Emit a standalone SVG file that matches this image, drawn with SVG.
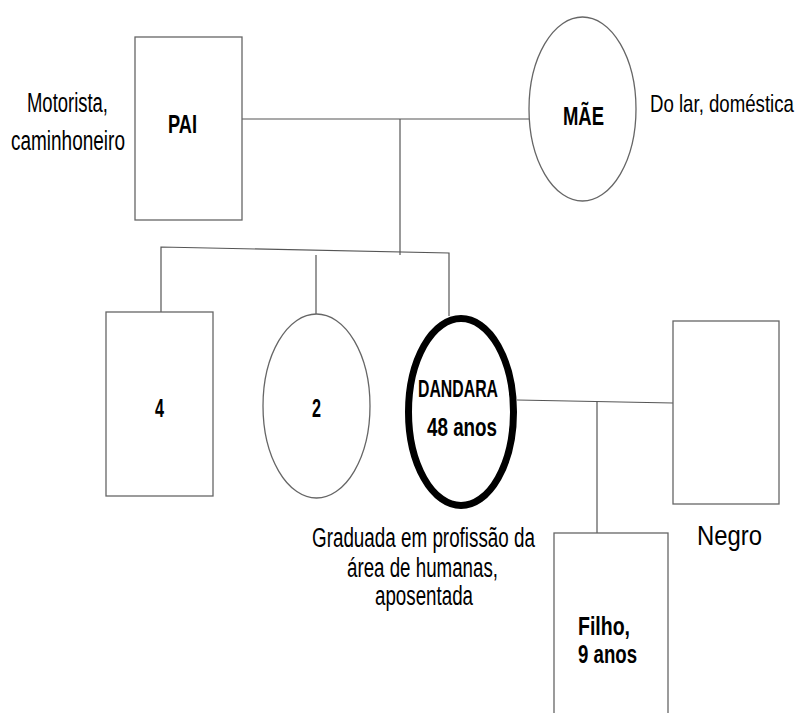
<svg xmlns="http://www.w3.org/2000/svg" width="801" height="713" viewBox="0 0 801 713">
<style>
.n{fill:#fff;stroke:#666;stroke-width:1.3}
.c{fill:none;stroke:#555;stroke-width:1.2}
.t{font-family:"Liberation Sans",Arial,sans-serif;font-size:27px;fill:#000}
.b{font-family:"Liberation Sans",Arial,sans-serif;font-size:25px;font-weight:bold;fill:#000}
</style>
<rect width="801" height="713" fill="#fff"/>
<g id="connectors">
<line class="c" x1="242" y1="119" x2="529" y2="119"/>
<line class="c" x1="400" y1="119" x2="400" y2="255"/>
<polyline class="c" points="161,312 161,247 449,253 449,316"/>
<line class="c" x1="316" y1="255" x2="316" y2="314"/>
<line class="c" x1="517" y1="400" x2="673" y2="403"/>
<line class="c" x1="597" y1="401" x2="597" y2="533"/>
</g>
<g id="pai">
<rect class="n" x="135" y="37" width="107" height="183"/>
<text class="b" x="168" y="133" textLength="29" lengthAdjust="spacingAndGlyphs">PAI</text>
</g>
<g id="pai-label" transform="scale(0.67,1)">
<text class="t" x="40.3" y="112" textLength="120.9" lengthAdjust="spacingAndGlyphs" style="font-size:28px">Motorista,</text>
<text class="t" x="16.4" y="150" textLength="170.1" lengthAdjust="spacingAndGlyphs" style="font-size:28px">caminhoneiro</text>
</g>
<g id="mae">
<ellipse class="n" cx="582.5" cy="109" rx="53.5" ry="92"/>
<text class="b" x="563" y="125" textLength="41" lengthAdjust="spacingAndGlyphs">MÃE</text>
</g>
<g id="mae-label" transform="scale(0.78,1)">
<text class="t" x="833.3" y="112" textLength="184.6" lengthAdjust="spacingAndGlyphs" style="font-size:24px">Do lar, doméstica</text>
</g>
<g id="irmaos">
<rect class="n" x="106" y="312" width="107" height="184"/>
<text class="b" x="155" y="417" textLength="9" lengthAdjust="spacingAndGlyphs">4</text>
</g>
<g id="irmas">
<ellipse class="n" cx="316.5" cy="406" rx="53.5" ry="92"/>
<text class="b" x="312" y="417" textLength="9" lengthAdjust="spacingAndGlyphs">2</text>
</g>
<g id="dandara">
<ellipse cx="461" cy="412" rx="52.5" ry="93.5" fill="#fff" stroke="#000" stroke-width="7"/>
<text class="b" x="418" y="397" textLength="80" lengthAdjust="spacingAndGlyphs" style="font-size:23px">DANDARA</text>
<text class="b" x="427" y="436" textLength="70" lengthAdjust="spacingAndGlyphs">48 anos</text>
</g>
<g id="dandara-label">
<text class="t" x="312" y="547" textLength="223" lengthAdjust="spacingAndGlyphs">Graduada em profissão da</text>
<text class="t" x="347" y="577" textLength="151" lengthAdjust="spacingAndGlyphs">área de humanas,</text>
<text class="t" x="375" y="605" textLength="98" lengthAdjust="spacingAndGlyphs">aposentada</text>
</g>
<g id="companheiro">
<rect class="n" x="673" y="321" width="106" height="183"/>
</g>
<g id="companheiro-label">
<text class="t" x="697" y="545" textLength="65" lengthAdjust="spacingAndGlyphs">Negro</text>
</g>
<g id="filho">
<rect class="n" x="554" y="533" width="114" height="190"/>
<text class="b" x="578" y="635" textLength="52" lengthAdjust="spacingAndGlyphs">Filho,</text>
<text class="b" x="578" y="663" textLength="59" lengthAdjust="spacingAndGlyphs">9 anos</text>
</g>
</svg>
